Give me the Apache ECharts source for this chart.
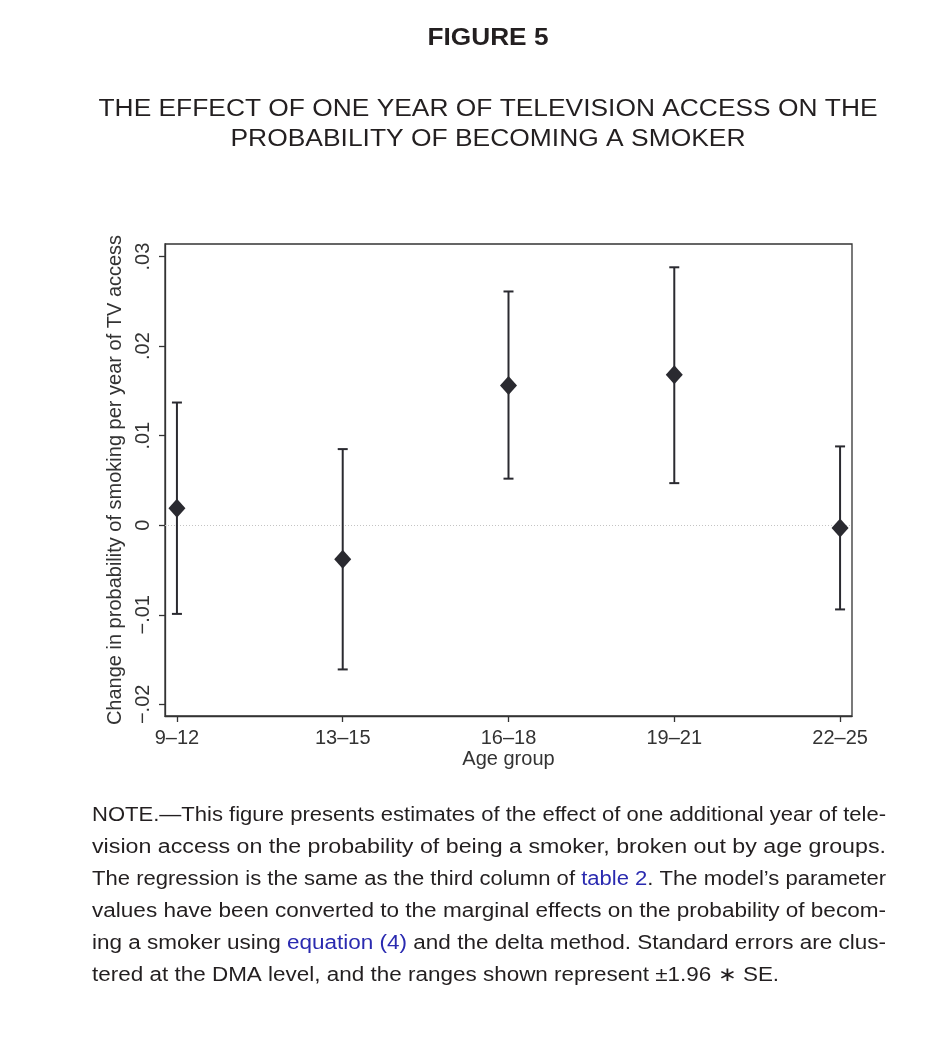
<!DOCTYPE html>
<html>
<head>
<meta charset="utf-8">
<script src="https://cdn.jsdelivr.net/npm/echarts@6/dist/echarts.min.js"></script>
<style>
  html, body { margin: 0; padding: 0; background: #fff; }
  #chart { width: 929px; height: 1039px; }
</style>
</head>
<body>
<div id="chart"></div>
<script>
// data
var ageGroups = ['9\u201312', '13\u201315', '16\u201318', '19\u201321', '22\u201325'];
var estimates = [0.0019, -0.0038, 0.0156, 0.0168, -0.0003];
var upperCI = [0.0137, 0.0085, 0.0261, 0.0288, 0.0088];
var lowerCI = [-0.0099, -0.0161, 0.0052, 0.0047, -0.0094];
var yTicks = [-0.02, -0.01, 0, 0.01, 0.02, 0.03];

var figTitle = 'FIGURE 5';
var subTitle = ['THE EFFECT OF ONE YEAR OF TELEVISION ACCESS ON THE', 'PROBABILITY OF BECOMING A SMOKER'];

var noteLines = [
    ['NOTE.\u2014This figure presents estimates of the effect of one additional year of tele-'],
    ['vision access on the probability of being a smoker, broken out by age groups.'],
    ['The regression is the same as the third column of ', '#table 2', '. The model\u2019s parameter'],
    ['values have been converted to the marginal effects on the probability of becom-'],
    ['ing a smoker using ', '#equation (4)', ' and the delta method. Standard errors are clus-'],
    ['tered at the DMA level, and the ranges shown represent \u00b11.96 \u2217 SE.']
];

var ink = '#231f20';
var dark = '#2a2a30';
var axisGrey = '#333';

function fmtY(v) {
    if (Math.abs(v) < 1e-9) return '0';
    var s = Math.abs(v).toFixed(2).replace(/^0/, '');
    return (v < 0 ? '\u2212' : '') + s;
}

var ctx = document.createElement('canvas').getContext('2d');
function textWidth(str, font) {
    ctx.font = font;
    return ctx.measureText(str).width;
}

var chart = echarts.init(document.getElementById('chart'));

// headings, fitted to the widths of the printed ones
var headFont = 'bold 24px "Liberation Sans"';
var subFont = '23px "Liberation Sans"';
var graphics = [{
    type: 'text', x: 488, y: 38,
    scaleX: 121 / textWidth(figTitle, headFont),
    style: { text: figTitle, x: 0, y: 0, font: headFont, fill: ink, align: 'center', verticalAlign: 'middle' }
}];
var subWidths = [779, 515];
subTitle.forEach(function (line, i) {
    graphics.push({
        type: 'text', x: 488, y: 110 + i * 30,
        scaleX: subWidths[i] / textWidth(line, subFont),
        style: { text: line, x: 0, y: 0, font: subFont, fill: ink, align: 'center', verticalAlign: 'middle' }
    });
});

// note text, stretched per line to mimic the justified print layout
var noteFont = '20px "Liberation Sans"';
var noteLeft = 92, noteRight = 886, noteTop = 815, noteStep = 32;
var scales = [];
noteLines.forEach(function (parts) {
    var plain = parts.map(function (p) { return p.replace(/^#/, ''); }).join('');
    scales.push((noteRight - noteLeft) / textWidth(plain, noteFont));
});
var avgScale = 0;
for (var i = 0; i < scales.length - 1; i++) avgScale += scales[i];
avgScale /= (scales.length - 1);

noteLines.forEach(function (parts, i) {
    var txt = parts.map(function (p) {
        if (p.charAt(0) === '#') return '{l|' + p.slice(1) + '}';
        return '{n|' + p + '}';
    }).join('');
    graphics.push({
        type: 'text',
        x: noteLeft,
        y: noteTop + i * noteStep,
        scaleX: i === noteLines.length - 1 ? avgScale : scales[i],
        style: {
            text: txt,
            x: 0, y: 0,
            verticalAlign: 'middle',
            font: noteFont,
            rich: {
                n: { fill: ink, fontSize: 20, fontFamily: 'Liberation Sans' },
                l: { fill: '#2a2ab0', fontSize: 20, fontFamily: 'Liberation Sans' }
            }
        }
    });
});

var errorData = ageGroups.map(function (g, i) { return [i + 1, lowerCI[i], upperCI[i]]; });
var pointData = ageGroups.map(function (g, i) { return [i + 1, estimates[i]]; });
var labelFont = { fontFamily: 'Liberation Sans', fontSize: 20, color: axisGrey };

chart.setOption({
    backgroundColor: '#fff',
    animation: false,
    grid: {
        left: 165, top: 244, width: 687, height: 472,
        show: true, borderColor: axisGrey, borderWidth: 1.3, backgroundColor: '#fff'
    },
    xAxis: {
        type: 'value',
        min: 0.928, max: 5.072,
        name: 'Age group',
        nameLocation: 'middle',
        nameGap: 33,
        nameTextStyle: labelFont,
        axisLine: { show: true, onZero: false, lineStyle: { color: axisGrey, width: 1.3 } },
        axisTick: { show: true, length: 6, customValues: [1, 2, 3, 4, 5], lineStyle: { color: axisGrey, width: 1.3 } },
        axisLabel: Object.assign({
            customValues: [1, 2, 3, 4, 5],
            margin: 12,
            formatter: function (v) { return ageGroups[Math.round(v) - 1]; }
        }, labelFont),
        splitLine: { show: false }
    },
    yAxis: {
        type: 'value',
        min: -0.0213, max: 0.0314,
        name: 'Change in probability of smoking per year of TV access',
        nameLocation: 'middle',
        nameGap: 32,
        nameTextStyle: labelFont,
        axisLine: { show: true, onZero: false, lineStyle: { color: axisGrey, width: 1.3 } },
        axisTick: { show: true, length: 6, customValues: yTicks, lineStyle: { color: axisGrey, width: 1.3 } },
        axisLabel: Object.assign({
            customValues: yTicks,
            rotate: 90,
            margin: 12,
            formatter: fmtY
        }, labelFont),
        splitLine: { show: false }
    },
    series: [
        {
            // zero reference line, kept under the marks
            type: 'scatter',
            data: [],
            z: 1,
            markLine: {
                silent: true,
                z: 1,
                symbol: ['none', 'none'],
                label: { show: false },
                lineStyle: { color: '#c4c4c4', type: [1, 2], width: 1 },
                data: [{ yAxis: 0 }]
            }
        },
        {
            type: 'custom',
            data: errorData,
            z: 2,
            renderItem: function (params, api) {
                var top = api.coord([api.value(0), api.value(2)]);
                var bot = api.coord([api.value(0), api.value(1)]);
                var cap = 5;
                var st = { stroke: dark, lineWidth: 2 };
                return {
                    type: 'group',
                    children: [
                        { type: 'line', shape: { x1: top[0], y1: top[1], x2: bot[0], y2: bot[1] }, style: st },
                        { type: 'line', shape: { x1: top[0] - cap, y1: top[1], x2: top[0] + cap, y2: top[1] }, style: st },
                        { type: 'line', shape: { x1: bot[0] - cap, y1: bot[1], x2: bot[0] + cap, y2: bot[1] }, style: st }
                    ]
                };
            }
        },
        {
            type: 'scatter',
            data: pointData,
            symbol: 'diamond',
            symbolSize: [17, 19],
            z: 3,
            itemStyle: { color: dark, opacity: 1 }
        }
    ],
    graphic: graphics
});
</script>
</body>
</html>
